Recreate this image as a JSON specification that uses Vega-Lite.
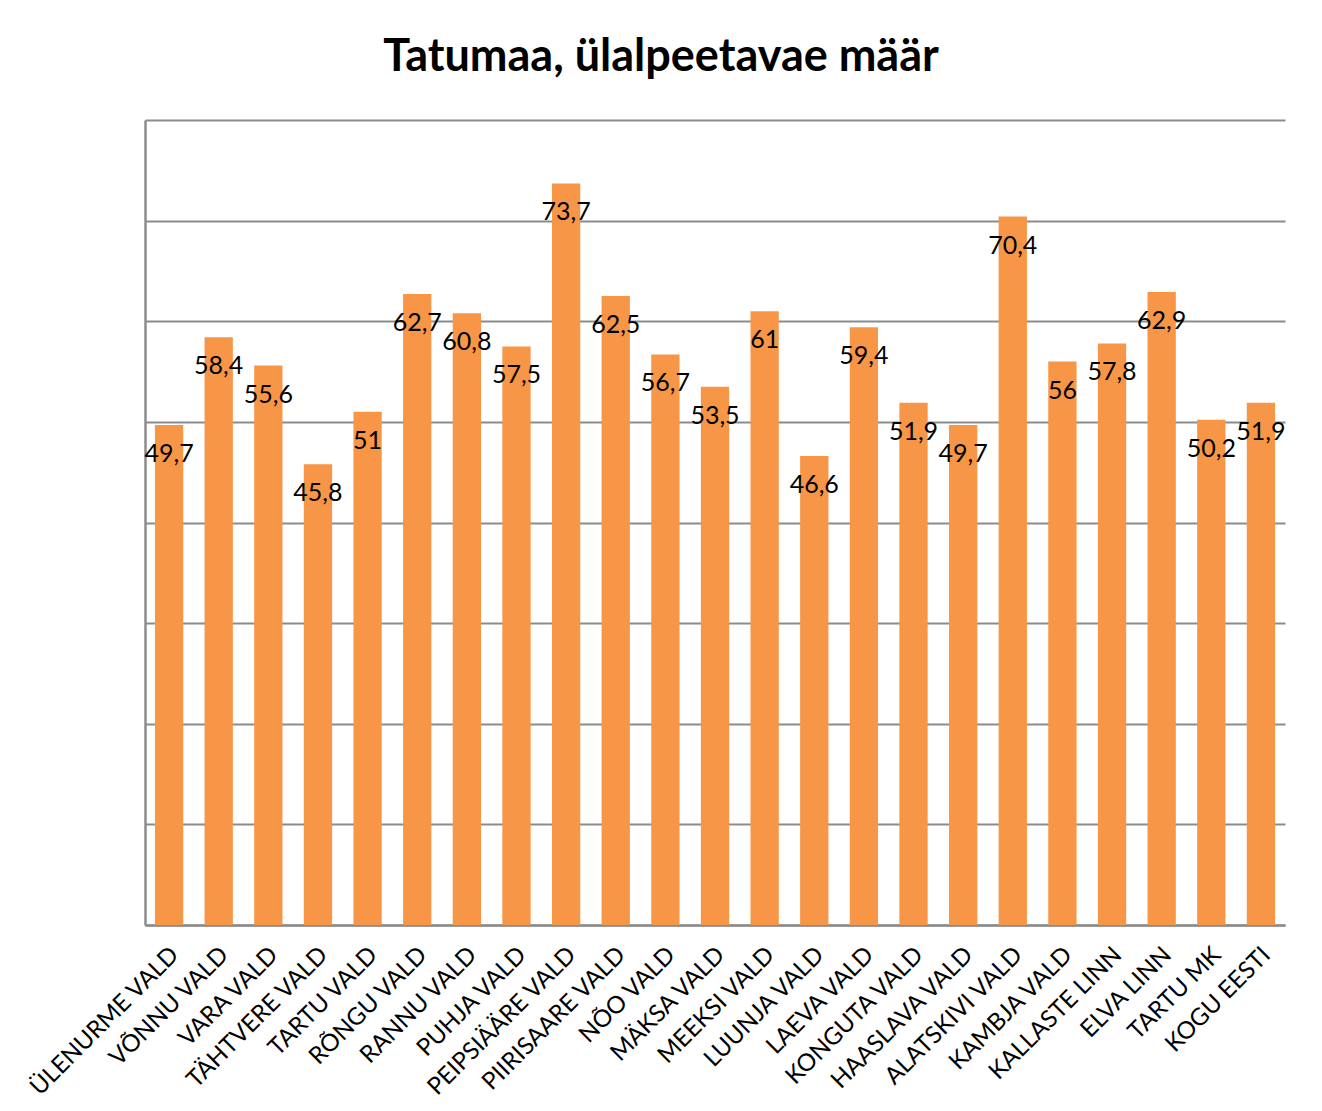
{
  "$schema": "https://vega.github.io/schema/vega-lite/v6.json",
  "width": 1140,
  "height": 805,
  "autosize": {"type": "none"},
  "padding": {"left": 145, "top": 120, "right": 37, "bottom": 186},
  "background": "white",
  "title": {
    "text": "Tatumaa, ülalpeetavae määr",
    "font": "Lato",
    "fontSize": 45,
    "fontWeight": "bold",
    "color": "#000000",
    "anchor": "middle",
    "dx": -54,
    "baseline": "alphabetic",
    "offset": 4
  },
  "data": {
    "values": [
      {"piirkond": "ÜLENURME VALD", "maar": 49.7},
      {"piirkond": "VÕNNU VALD", "maar": 58.4},
      {"piirkond": "VARA VALD", "maar": 55.6},
      {"piirkond": "TÄHTVERE VALD", "maar": 45.8},
      {"piirkond": "TARTU VALD", "maar": 51},
      {"piirkond": "RÕNGU VALD", "maar": 62.7},
      {"piirkond": "RANNU VALD", "maar": 60.8},
      {"piirkond": "PUHJA VALD", "maar": 57.5},
      {"piirkond": "PEIPSIÄÄRE VALD", "maar": 73.7},
      {"piirkond": "PIIRISAARE VALD", "maar": 62.5},
      {"piirkond": "NÕO VALD", "maar": 56.7},
      {"piirkond": "MÄKSA VALD", "maar": 53.5},
      {"piirkond": "MEEKSI VALD", "maar": 61},
      {"piirkond": "LUUNJA VALD", "maar": 46.6},
      {"piirkond": "LAEVA VALD", "maar": 59.4},
      {"piirkond": "KONGUTA VALD", "maar": 51.9},
      {"piirkond": "HAASLAVA VALD", "maar": 49.7},
      {"piirkond": "ALATSKIVI VALD", "maar": 70.4},
      {"piirkond": "KAMBJA VALD", "maar": 56},
      {"piirkond": "KALLASTE LINN", "maar": 57.8},
      {"piirkond": "ELVA LINN", "maar": 62.9},
      {"piirkond": "TARTU MK", "maar": 50.2},
      {"piirkond": "KOGU EESTI", "maar": 51.9}
    ]
  },
  "encoding": {
    "x": {
      "field": "piirkond",
      "type": "nominal",
      "sort": null,
      "scale": {"paddingInner": 0.43, "paddingOuter": 0.2},
      "axis": {
        "title": null,
        "labelAngle": -45,
        "labelAlign": "right",
        "labelBaseline": "middle",
        "labelFont": "Lato",
        "labelFontSize": 24,
        "labelColor": "#000000",
        "labelPadding": 26,
        "labelOffset": 6,
        "labelLimit": 0,
        "labelOverlap": false,
        "ticks": false,
        "domainColor": "#8c8c8c",
        "domainWidth": 2.5,
        "grid": false
      }
    },
    "y": {
      "field": "maar",
      "type": "quantitative",
      "scale": {"domain": [0, 80], "nice": false},
      "axis": {
        "title": null,
        "labels": false,
        "ticks": false,
        "values": [0, 10, 20, 30, 40, 50, 60, 70, 80],
        "grid": true,
        "gridColor": "#8c8c8c",
        "gridWidth": 2,
        "domainColor": "#8c8c8c",
        "domainWidth": 2.5
      }
    }
  },
  "layer": [
    {"mark": {"type": "bar", "color": "#F79646"}},
    {
      "mark": {
        "type": "text",
        "font": "Lato",
        "fontSize": 25,
        "color": "#000000",
        "align": "center",
        "baseline": "middle",
        "dy": 29
      },
      "encoding": {
        "text": {"field": "maar", "type": "quantitative", "format": ".1~f"}
      }
    }
  ],
  "config": {
    "view": {"stroke": null},
    "locale": {
      "number": {"decimal": ",", "thousands": " ", "grouping": [3], "currency": ["", " €"]}
    }
  }
}
